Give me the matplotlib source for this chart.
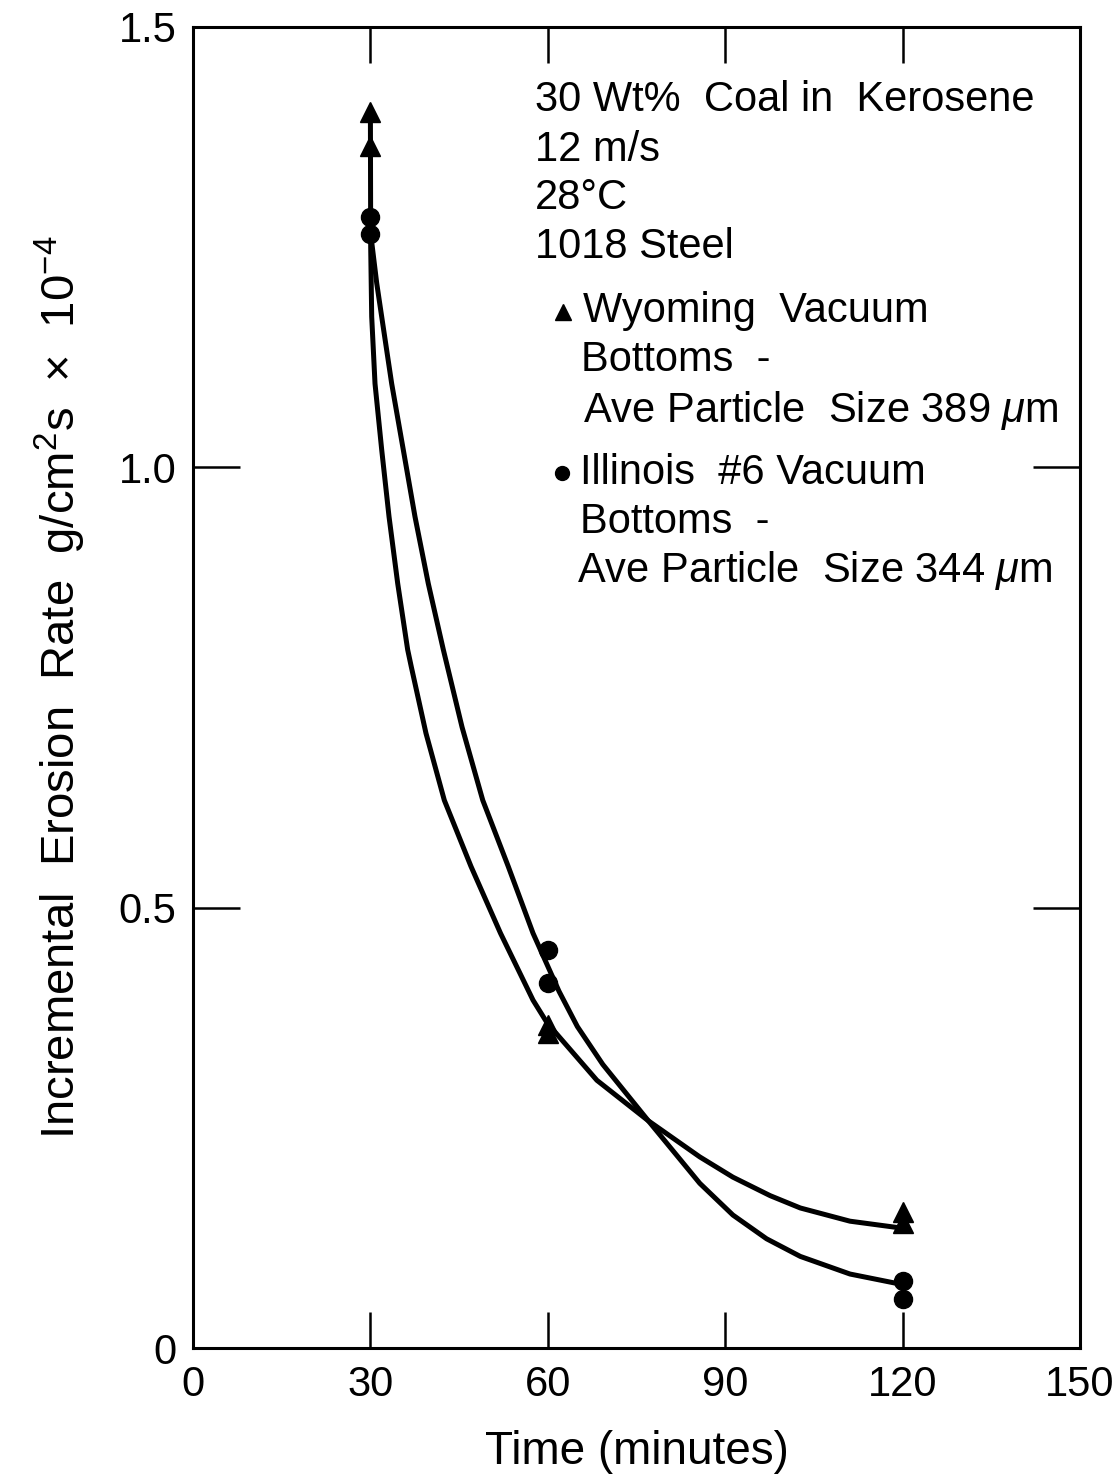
import matplotlib
matplotlib.use('Agg')
import matplotlib.pyplot as plt

plt.rcParams['font.family'] = ['Liberation Sans', 'DejaVu Sans']
plt.rcParams['mathtext.fontset'] = 'custom'
plt.rcParams['mathtext.rm'] = 'Liberation Sans'
plt.rcParams['mathtext.it'] = 'Liberation Sans:italic'

# measured points
wyo_time = [30, 30, 60, 60, 120, 120]
wyo_rate = [1.403, 1.365, 0.367, 0.358, 0.154, 0.142]
ill_time = [30, 30, 60, 60, 120, 120]
ill_rate = [1.284, 1.265, 0.452, 0.414, 0.076, 0.056]

# fitted curves
wyo_fit_time = [30, 30.05, 30.22, 30.78, 31.91, 33.15, 34.62, 36.3, 36.9, 39.4, 42.5, 47.0,
                52.0, 57.5, 59.9, 68.3, 77, 85.7, 91.3, 97.6, 102.7, 111.1, 120]
wyo_fit_rate = [1.403, 1.25, 1.171, 1.095, 1.020, 0.944, 0.868, 0.793, 0.774, 0.698, 0.622, 0.547,
                0.471, 0.395, 0.369, 0.304, 0.258, 0.217, 0.194, 0.173, 0.159, 0.144, 0.136]
ill_fit_time = [30, 31.07, 31.91, 33.6, 35.56, 37.54, 39.79, 42.33, 45.5, 49.0, 53.3, 57.5,
                61.9, 65.0, 69.3, 77, 85.7, 91.3, 97.0, 102.7, 111.1, 120]
ill_fit_rate = [1.268, 1.209, 1.171, 1.095, 1.020, 0.944, 0.868, 0.793, 0.705, 0.622, 0.547, 0.471,
                0.405, 0.365, 0.322, 0.258, 0.187, 0.151, 0.124, 0.104, 0.084, 0.072]

x_ticks = [0, 30, 60, 90, 120, 150]
y_ticks = [0, 0.5, 1.0, 1.5]
y_tick_labels = ['0', '0.5', '1.0', '1.5']

W, H = 1115, 1480
fig = plt.figure(figsize=(W / 100, H / 100), dpi=100)
ax = fig.add_axes([193 / W, 1 - 1348 / H, (1080 - 193) / W, (1348 - 27) / H])


def px(x, y):
    return x / W, 1 - y / H


ax.plot(wyo_fit_time, wyo_fit_rate, color='black', linewidth=3.6,
        solid_capstyle='round', solid_joinstyle='round')
ax.plot(ill_fit_time, ill_fit_rate, color='black', linewidth=3.6,
        solid_capstyle='round', solid_joinstyle='round')
ax.plot(wyo_time, wyo_rate, linestyle='none', marker='^', markersize=14, color='black')
ax.plot(ill_time, ill_rate, linestyle='none', marker='o', markersize=13, color='black')

ax.set_xlim(0, 150)
ax.set_ylim(0, 1.5)
ax.set_xticks(x_ticks)
ax.set_yticks(y_ticks)
ax.set_yticklabels(y_tick_labels)
ax.tick_params(direction='in', length=26, width=1.8, labelsize=30, top=True, right=True, pad=12)
ax.tick_params(axis='y', length=34)
for s in ax.spines.values():
    s.set_linewidth(2.2)

ax.set_xlabel('Time (minutes)', fontsize=33, labelpad=18)
ax.set_ylabel(r'Incremental  Erosion  Rate  g/cm$^2$s  $\times$  10$^{-4}$', fontsize=34, labelpad=22)

fs = 30
lines = [
    (535, 100, '30 Wt%  Coal in  Kerosene'),
    (535, 150, '12 m/s'),
    (535, 198, '28°C'),
    (535, 247, '1018 Steel'),
    (583, 311, 'Wyoming  Vacuum'),
    (581, 360, 'Bottoms  -'),
    (583, 410, r'Ave Particle  Size 389 $\mu$m'),
    (580, 473, 'Illinois  #6 Vacuum'),
    (580, 522, 'Bottoms  -'),
    (577, 571, r'Ave Particle  Size 344 $\mu$m'),
]
for x, y, t in lines:
    fig.text(*px(x, y), t, fontsize=fs, ha='left', va='center')

fig.lines.append(plt.Line2D([px(563, 0)[0]], [px(0, 312)[1]], marker='^', markersize=12,
                            color='black', transform=fig.transFigure))
fig.lines.append(plt.Line2D([px(562, 0)[0]], [px(0, 473)[1]], marker='o', markersize=10,
                            color='black', transform=fig.transFigure))

fig.savefig('out.png', dpi=100, facecolor='white')
